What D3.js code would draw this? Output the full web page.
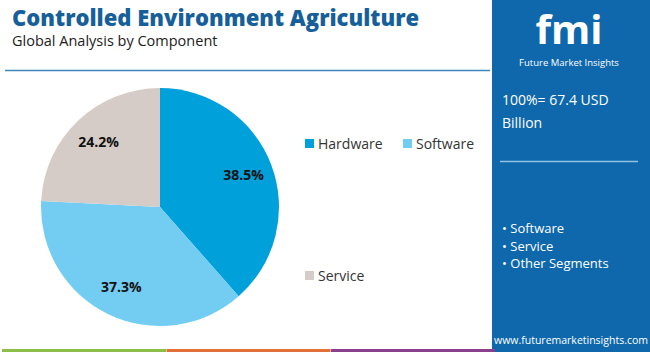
<!DOCTYPE html>
<html><head><meta charset="utf-8">
<script src="https://cdn.jsdelivr.net/npm/d3@7"></script>
<style>body{margin:0;background:#fff}svg{display:block}text{font-family:"Open Sans",Lato,sans-serif}</style>
</head><body>
<svg id="c" width="650" height="352"></svg>
<script>
const categories = ["Hardware", "Software", "Service"];
const values = [38.5, 37.3, 24.2];
const colors = ["#00a1db", "#73cdf3", "#d6ccc7"];
const panelBullets = ["Software", "Service", "Other Segments"];
const totalLabel = ["100%= 67.4 USD", "Billion"];

const svg = d3.select("#c");
svg.append("rect").attr("width",650).attr("height",352).attr("fill","#fff");

// title
svg.append("text").attr("x",12).attr("y",26).attr("font-size",22).attr("font-weight",800)
  .attr("fill","#165f9a").attr("font-family","Lato, 'Open Sans', sans-serif").text("Controlled Environment Agriculture");
svg.append("text").attr("x",12).attr("y",46).attr("font-size",14.5).attr("fill","#222").text("Global Analysis by Component");
svg.append("line").attr("x1",5).attr("x2",490).attr("y1",70.5).attr("y2",70.5).attr("stroke","#3f86bd").attr("stroke-width",1.5);

// right panel
svg.append("rect").attr("x",492).attr("y",0).attr("width",158).attr("height",352).attr("fill","#0e68ab");
svg.append("text").attr("x",569).attr("y",44).attr("text-anchor","middle").attr("font-size",40).attr("font-weight",700)
  .attr("fill","#fff").attr("font-family","'DejaVu Serif', serif").text("fmi");
svg.append("text").attr("x",569).attr("y",66).attr("text-anchor","middle").attr("font-size",9.5).attr("fill","#fff").text("Future Market Insights");
svg.selectAll(".tl").data(totalLabel).join("text").attr("x",502).attr("y",(d,i)=>105+i*23)
  .attr("font-size",14).attr("fill","#fff").text(d=>d);
svg.append("line").attr("x1",500).attr("x2",638).attr("y1",161.5).attr("y2",161.5).attr("stroke","#8fc0e6").attr("stroke-width",1.5);
svg.selectAll(".pb").data(panelBullets).join("text").attr("x",502).attr("y",(d,i)=>233+i*17.5)
  .attr("font-size",13).attr("fill","#fff").text(d=>"• "+d);
svg.append("text").attr("x",571).attr("y",344).attr("text-anchor","middle").attr("font-size",10.5).attr("fill","#fff").text("www.futuremarketinsights.com");

// bottom strip
const strip = ["#8cbf4a","#e2703b","#8b3f8f"];
svg.selectAll(".st").data(strip).join("rect").attr("x",(d,i)=>2+i*164.5).attr("y",349).attr("width",164).attr("height",3).attr("fill",d=>d);

// pie
const cx=160, cy=207, r=119;
const pie = d3.pie().sort(null).value(d=>d)(values);
const arc = d3.arc().innerRadius(0).outerRadius(r);
const g = svg.append("g").attr("transform",`translate(${cx},${cy})`);
g.selectAll("path").data(pie).join("path").attr("d",arc).attr("fill",(d,i)=>colors[i]);
const lab = d3.arc().innerRadius(r*0.75).outerRadius(r*0.75);
g.selectAll(".pl").data(pie).join("text").attr("transform",d=>`translate(${lab.centroid(d)})`)
  .attr("text-anchor","middle").attr("dy","0.35em").attr("font-size",14).attr("font-weight",700)
  .attr("font-family","Roboto, sans-serif").attr("fill","#111").text(d=>d.data.toFixed(1)+"%");

// legend
const legPos = [[305,144],[403,144],[305,276]];
const lg = svg.selectAll(".lg").data(categories).join("g").attr("transform",(d,i)=>`translate(${legPos[i][0]},${legPos[i][1]})`);
lg.append("rect").attr("x",0).attr("y",-5).attr("width",9).attr("height",9).attr("fill",(d,i)=>colors[i]);
lg.append("text").attr("x",13).attr("y",0).attr("dy","0.35em").attr("font-size",14).attr("fill","#333").text(d=>d);
</script>
</body></html>
